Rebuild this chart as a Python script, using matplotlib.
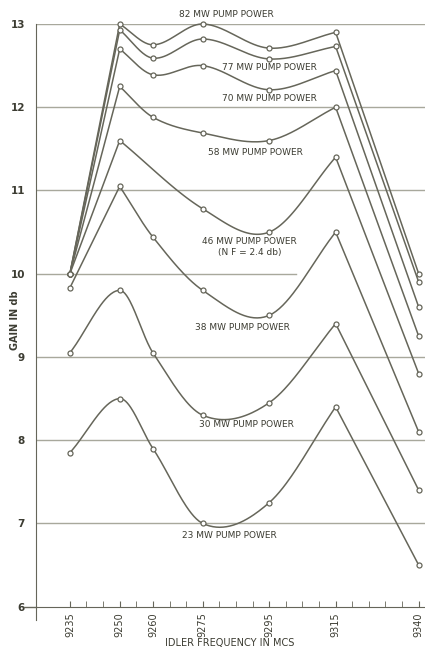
import numpy as np
import matplotlib.pyplot as plt
import matplotlib.transforms as mtransforms

freq = [9235, 9250, 9260, 9275, 9295, 9315, 9340]
freq_ticks = [9235, 9250, 9260, 9275, 9295, 9315, 9340]
gain_ticks = [6, 7, 8, 9, 10, 11, 12, 13]

gain_82 = [10.0, 13.0, 12.75, 13.0, 12.71, 12.9, 10.0]
gain_77 = [10.0, 12.93, 12.59, 12.82, 12.58, 12.73, 9.9]
gain_70 = [10.0, 12.7, 12.39, 12.5, 12.21, 12.44, 9.6]
gain_58 = [10.0, 12.25, 11.88, 11.69, 11.6, 12.0, 9.25]
gain_46 = [10.0, 11.6, np.nan, 10.78, 10.5, 11.4, 8.8]
gain_38 = [9.83, 11.05, 10.44, 9.8, 9.5, 10.5, 8.1]
gain_30 = [9.05, 9.8, 9.05, 8.3, 8.45, 9.4, 7.4]
gain_23 = [7.85, 8.5, 7.9, 7.0, 7.25, 8.4, 6.5]

labels = ["82 MW PUMP POWER", "77 MW PUMP POWER", "70 MW PUMP POWER",
          "58 MW PUMP POWER", "46 MW PUMP POWER\n(N F = 2.4 db)",
          "38 MW PUMP POWER", "30 MW PUMP POWER", "23 MW PUMP POWER"]
label_x = [9282, 9295, 9295, 9291, 9289, 9287, 9288, 9283]
label_y = [13.12, 12.48, 12.11, 11.46, 10.32, 9.35, 8.19, 6.85]

series = [gain_82, gain_77, gain_70, gain_58, gain_46, gain_38, gain_30, gain_23]
# curves whose first segment is drawn curved rather than straight
curved_start = [False, False, False, False, False, False, True, True]

LINE = "#66665a"
TEXT = "#3c3c32"
GRID = "#a8a89c"


def hermite(x, y, n=40):
    # smooth curve through points (cubic hermite, finite-difference slopes)
    x = np.asarray(x, float)
    y = np.asarray(y, float)
    m = np.zeros_like(y)
    m[1:-1] = (y[2:] - y[:-2]) / (x[2:] - x[:-2])
    m[0] = (y[1] - y[0]) / (x[1] - x[0])
    m[-1] = (y[-1] - y[-2]) / (x[-1] - x[-2])
    xs, ys = [], []
    for i in range(len(x) - 1):
        h = x[i + 1] - x[i]
        t = np.linspace(0, 1, n)
        h00 = 2 * t**3 - 3 * t**2 + 1
        h10 = t**3 - 2 * t**2 + t
        h01 = -2 * t**3 + 3 * t**2
        h11 = t**3 - t**2
        xs.append(x[i] + t * h)
        ys.append(h00 * y[i] + h10 * h * m[i] + h01 * y[i + 1] + h11 * h * m[i + 1])
    return np.concatenate(xs), np.concatenate(ys)


fig = plt.figure(figsize=(4.25, 6.5), dpi=100)
ax = fig.add_axes([36 / 425, 1 - 620 / 650, 1 - 36 / 425, (620 - 24) / 650])
ax.set_xlim(9224.8, 9341.9)
ax.set_ylim(5.84, 13.0)

# horizontal rules
for g in gain_ticks[1:]:
    if g == 10:
        ax.plot([9224.8, 9303], [g, g], color=GRID, lw=1.0, zorder=1)
    else:
        ax.axhline(g, color=GRID, lw=1.0, zorder=1)

for g, c in zip(series, curved_start):
    x = np.array(freq, float)
    y = np.array(g, float)
    ok = ~np.isnan(y)
    x, y = x[ok], y[ok]
    if c:
        sx, sy = hermite(x[:-1], y[:-1])
    else:
        sx, sy = hermite(x[1:-1], y[1:-1])
        ax.plot(x[:2], y[:2], color=LINE, lw=1.1, zorder=2, clip_on=False)
    ax.plot(sx, sy, color=LINE, lw=1.1, zorder=2, clip_on=False)
    ax.plot(x[-2:], y[-2:], color=LINE, lw=1.1, zorder=2, clip_on=False)
    ax.plot(x, y, "o", ms=3.6, mfc="white", mec=LINE, mew=0.9,
            zorder=3, clip_on=False)

for t, lx, ly in zip(labels, label_x, label_y):
    ax.text(lx, ly, t, ha="center", va="center", fontsize=6.5,
            color=TEXT, linespacing=1.4)

# axes
for s in ["top", "right"]:
    ax.spines[s].set_visible(False)
ax.spines["bottom"].set_position(("data", 6))
ax.spines["left"].set_color(LINE)
ax.spines["bottom"].set_color(LINE)
trans = mtransforms.blended_transform_factory(ax.transAxes, ax.transData)
ax.plot([-0.03, 0], [6, 6], color=LINE, lw=1.0, transform=trans, clip_on=False)

ax.set_yticks(gain_ticks)
ax.set_yticklabels([str(g) for g in gain_ticks], fontsize=7.5,
                   color=TEXT, fontweight="bold")
ax.tick_params(axis="y", length=0, pad=8)

ax.set_xticks(freq_ticks)
ax.set_xticklabels([str(f) for f in freq_ticks], rotation=90,
                   fontsize=7, color=TEXT)
ax.set_xticks(np.arange(9235, 9341, 5), minor=True)
ax.tick_params(axis="x", which="both", direction="in", length=4,
               color=LINE, pad=4)

fig.text(15 / 425, 1 - 320 / 650, "GAIN IN db", rotation=90, ha="center",
         va="center", fontsize=7, color=TEXT, fontweight="bold")
fig.text(230 / 425, 1 - 643 / 650, "IDLER FREQUENCY IN MCS", ha="center",
         va="center", fontsize=7, color=TEXT)

fig.savefig("out.png", dpi=100, facecolor="white")
